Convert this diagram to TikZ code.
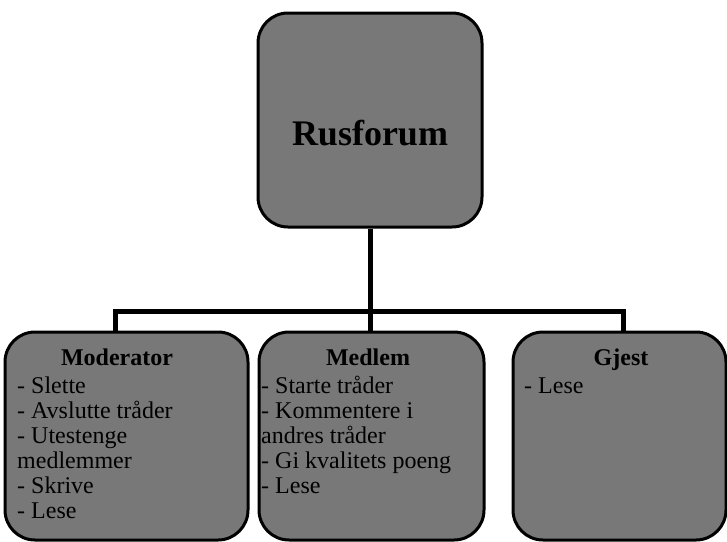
\documentclass[tikz,border=0pt]{standalone}
\usepackage{fontspec}
\setmainfont{Liberation Serif}
\usetikzlibrary{calc}
\definecolor{boxgray}{RGB}{120,120,120}
\tikzset{
  box/.style={draw=black, line width=3pt, fill=boxgray, rounded corners=30pt, inner sep=0pt},
  conn/.style={draw=black, line width=5pt},
  toptxt/.style={font=\fontsize{36}{40}\selectfont\bfseries, inner sep=0pt, anchor=base},
  headtxt/.style={font=\fontsize{24}{25}\selectfont\bfseries, inner sep=0pt, anchor=base},
  bodytxt/.style={font=\fontsize{24}{25}\selectfont, inner sep=0pt, anchor=base west}
}
\begin{document}
\begin{tikzpicture}[x=1pt,y=-1pt]
\useasboundingbox (0,0) rectangle (727,541);
% boxes
\node[box, minimum width=224pt, minimum height=214pt] (top) at (370,120) {};
\node[box, minimum width=243pt, minimum height=208pt] (mod) at (126.5,436) {};
\node[box, minimum width=225pt, minimum height=208pt] (med) at (371.5,436) {};
\node[box, minimum width=213pt, minimum height=208pt] (gje) at (619.5,436) {};
% connectors
\coordinate (bus) at (370,311);
\draw[conn] (top.south) -- (bus);
\draw[conn] (bus) -| ([xshift=-11.5pt]mod.north);
\draw[conn] (bus) -| ([xshift=3.5pt]gje.north);
\draw[conn] (bus) -- (bus |- med.north);
% texts
\node[toptxt] (toplabel) at (370,145) {Rusforum};
\node[headtxt] (modhead) at (117,365) {Moderator};
\node[bodytxt] (modbody) at (17,393) {\parbox[t]{240pt}{\raggedright - Slette\\- Avslutte tråder\\- Utestenge\\medlemmer\\- Skrive\\- Lese}};
\node[headtxt] (medhead) at (368,365) {Medlem};
\node[bodytxt] (medbody) at (261,393) {\parbox[t]{230pt}{\raggedright - Starte tråder\\- Kommentere i\\andres tråder\\- Gi kvalitets poeng\\- Lese}};
\node[headtxt] (gjehead) at (621,365) {Gjest};
\node[bodytxt] (gjebody) at (524,393) {\parbox[t]{200pt}{\raggedright - Lese}};
\end{tikzpicture}
\end{document}
